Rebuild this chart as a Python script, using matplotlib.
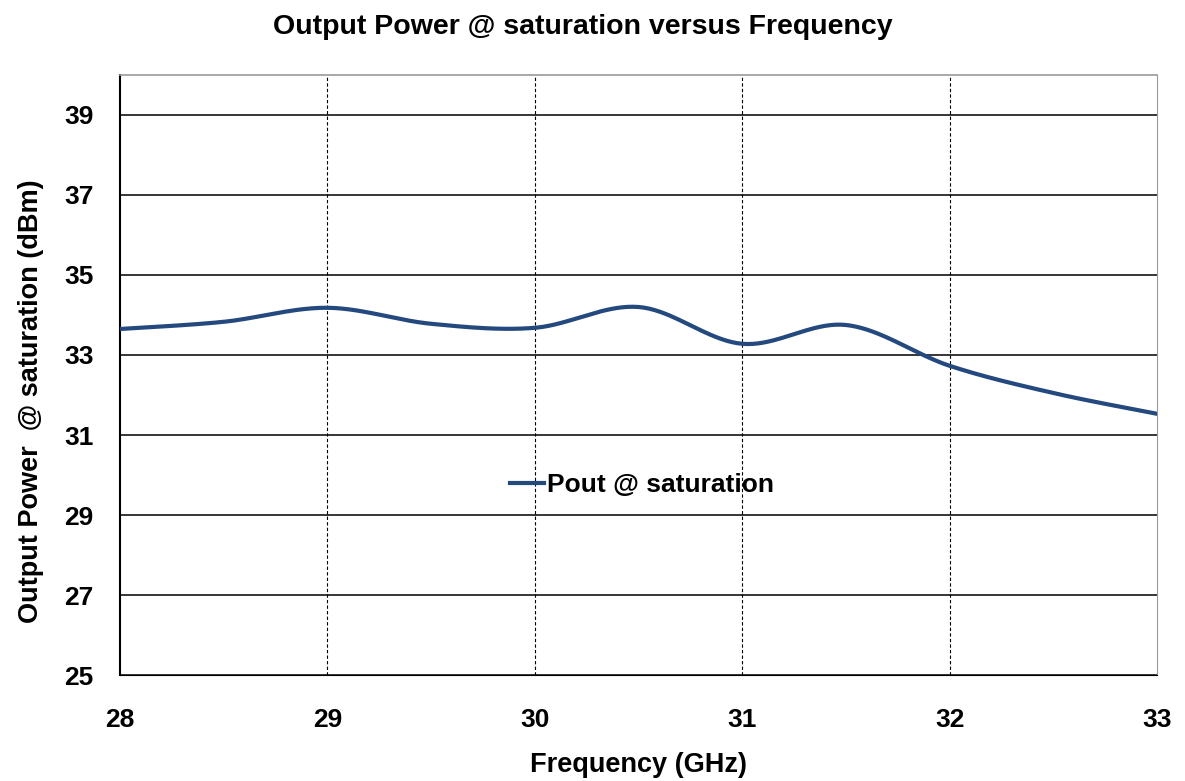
import numpy as np
import matplotlib.pyplot as plt

plt.rcParams['font.family'] = ['Liberation Sans', 'DejaVu Sans']
plt.rcParams['font.weight'] = 'bold'

# data
freq_ghz = [28.0, 28.5, 29.0, 29.5, 30.0, 30.5, 31.0, 31.5, 32.0, 32.5, 33.0]
pout_dbm = [33.65, 33.83, 34.18, 33.78, 33.68, 34.20, 33.28, 33.75, 32.73, 32.05, 31.53]

x_ticks = [28, 29, 30, 31, 32, 33]
y_ticks = [25, 27, 29, 31, 33, 35, 37, 39]


def smooth_line(x, y, n=40):
    # Excel-style smoothed line (Catmull-Rom through the points)
    x = np.asarray(x, float)
    y = np.asarray(y, float)
    px = np.concatenate([[x[0]], x, [x[-1]]])
    py = np.concatenate([[y[0]], y, [y[-1]]])
    xs, ys = [], []
    t = np.linspace(0, 1, n)
    for i in range(1, len(px) - 2):
        p0x, p1x, p2x, p3x = px[i - 1], px[i], px[i + 1], px[i + 2]
        p0y, p1y, p2y, p3y = py[i - 1], py[i], py[i + 1], py[i + 2]
        c1x, c1y = p1x + (p2x - p0x) / 6, p1y + (p2y - p0y) / 6
        c2x, c2y = p2x - (p3x - p1x) / 6, p2y - (p3y - p1y) / 6
        b = [(1 - t) ** 3, 3 * (1 - t) ** 2 * t, 3 * (1 - t) * t ** 2, t ** 3]
        xs.append(b[0] * p1x + b[1] * c1x + b[2] * c2x + b[3] * p2x)
        ys.append(b[0] * p1y + b[1] * c1y + b[2] * c2y + b[3] * p2y)
    return np.concatenate(xs), np.concatenate(ys)


fig = plt.figure(figsize=(11.85, 7.81), dpi=100)
ax = fig.add_axes([0.1013, 0.1357, 0.8751, 0.7683])

sx, sy = smooth_line(freq_ghz, pout_dbm)
ax.plot(sx, sy, color='#24497F', lw=3, label='Pout @ saturation', zorder=3)

ax.set_xlim(28, 33)
ax.set_ylim(25, 40)
ax.set_xticks(x_ticks)
ax.set_yticks(y_ticks)
ax.tick_params(axis='both', labelsize=19, length=0)
ax.tick_params(axis='x', pad=24)
ax.tick_params(axis='y', pad=19)

for v in y_ticks:
    ax.axhline(v, color='black', lw=1.1, zorder=1)
for v in x_ticks[1:-1]:
    ax.axvline(v, color='black', lw=0.8, ls=(0, (3, 2)), zorder=1)

ax.spines['left'].set_color('black')
ax.spines['left'].set_linewidth(1.5)
ax.spines['bottom'].set_color('black')
ax.spines['top'].set_color('#999999')
ax.spines['top'].set_linewidth(1.2)
ax.spines['right'].set_color('#999999')
ax.spines['right'].set_linestyle((0, (2, 1)))

ax.set_xlabel('Frequency (GHz)', fontsize=19.5, fontweight='bold', labelpad=14)
ax.set_ylabel('Output Power  @ saturation (dBm)', fontsize=19.5, fontweight='bold')
ax.yaxis.set_label_coords(-0.073, 0.457)
fig.text(0.492, 0.966, 'Output Power @ saturation versus Frequency', fontsize=20.5,
         fontweight='bold', ha='center', va='center')

ax.legend(loc='center', bbox_to_anchor=(0.503, 0.317), frameon=False, fontsize=19,
          handlelength=1.3, handletextpad=0.1)

fig.savefig('out.png', dpi=100)
